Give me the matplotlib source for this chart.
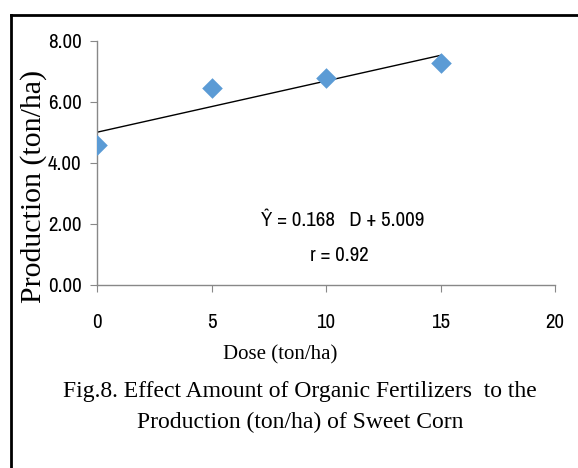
import matplotlib.pyplot as plt
from matplotlib.lines import Line2D
from matplotlib import font_manager

# data
dose = [0, 5, 10, 15]
production = [4.60, 6.46, 6.80, 7.28]
slope = 0.168
intercept = 5.009
xticks = [0, 5, 10, 15, 20]
yticks = [0, 2, 4, 6, 8]

# look for a condensed sans (the original uses a narrow face)
names = sorted(set(f.name for f in font_manager.fontManager.ttflist))
cond = [n for n in names if 'Narrow' in n or 'Condensed' in n]
narrow = cond[:1] + ['Liberation Sans', 'DejaVu Sans']
serif = ['Liberation Serif', 'DejaVu Serif']

fig = plt.figure(figsize=(5.78, 4.68), dpi=100)
ax = fig.add_axes([97/578, 1 - 285/468, (555-97)/578, (285-41)/468])

ax.scatter(dose, production, marker='D', s=110, color='#5B9BD5', zorder=3,
           linewidths=0)
fit_x = [dose[0], dose[-1]]
fit_y = [slope * x + intercept for x in fit_x]
ax.plot(fit_x, fit_y, color='black', lw=1.0, zorder=2)

ax.set_xlim(0, 20)
ax.set_ylim(0, 8)
ax.set_xticks(xticks)
ax.set_yticks(yticks)
ax.set_xticklabels([str(t) for t in xticks], family=narrow, fontsize=15,
                   fontstretch='condensed')
ax.set_yticklabels(['%.2f' % t for t in yticks], family=narrow, fontsize=15,
                   fontstretch='condensed')
for s in ['top', 'right']:
    ax.spines[s].set_visible(False)
for s in ['left', 'bottom']:
    ax.spines[s].set_color('#888888')
    ax.spines[s].set_linewidth(1.0)
ax.tick_params(axis='both', color='#888888', length=5, pad=6)
ax.tick_params(axis='x', pad=15)

ax.text(10.75, 2.13, r'Ŷ = 0.168   D + 5.009', ha='center', va='center',
        family=narrow, fontsize=15, fontstretch='condensed')
ax.text(10.6, 0.98, 'r = 0.92', ha='center', va='center',
        family=narrow, fontsize=15, fontstretch='condensed')

fig.text(34/578, 1 - 186/468, 'Production (ton/ha)', rotation=90,
         ha='center', va='center', family=serif, fontsize=21.5)
fig.text(280/578, 1 - 355/468, 'Dose (ton/ha)', ha='center', va='center',
         family=serif, fontsize=15)
fig.text(300/578, 1 - 392/468, 'Fig.8. Effect Amount of Organic Fertilizers  to the',
         ha='center', va='center', family=serif, fontsize=17)
fig.text(300/578, 1 - 422/468, 'Production (ton/ha) of Sweet Corn',
         ha='center', va='center', family=serif, fontsize=17)

# frame lines on left and top
fig.add_artist(Line2D([11/578, 11/578], [0, 1 - 15/468], color='black', lw=2))
fig.add_artist(Line2D([11/578, 1], [1 - 15/468, 1 - 15/468], color='black', lw=2))

fig.savefig('out.png', dpi=100)
